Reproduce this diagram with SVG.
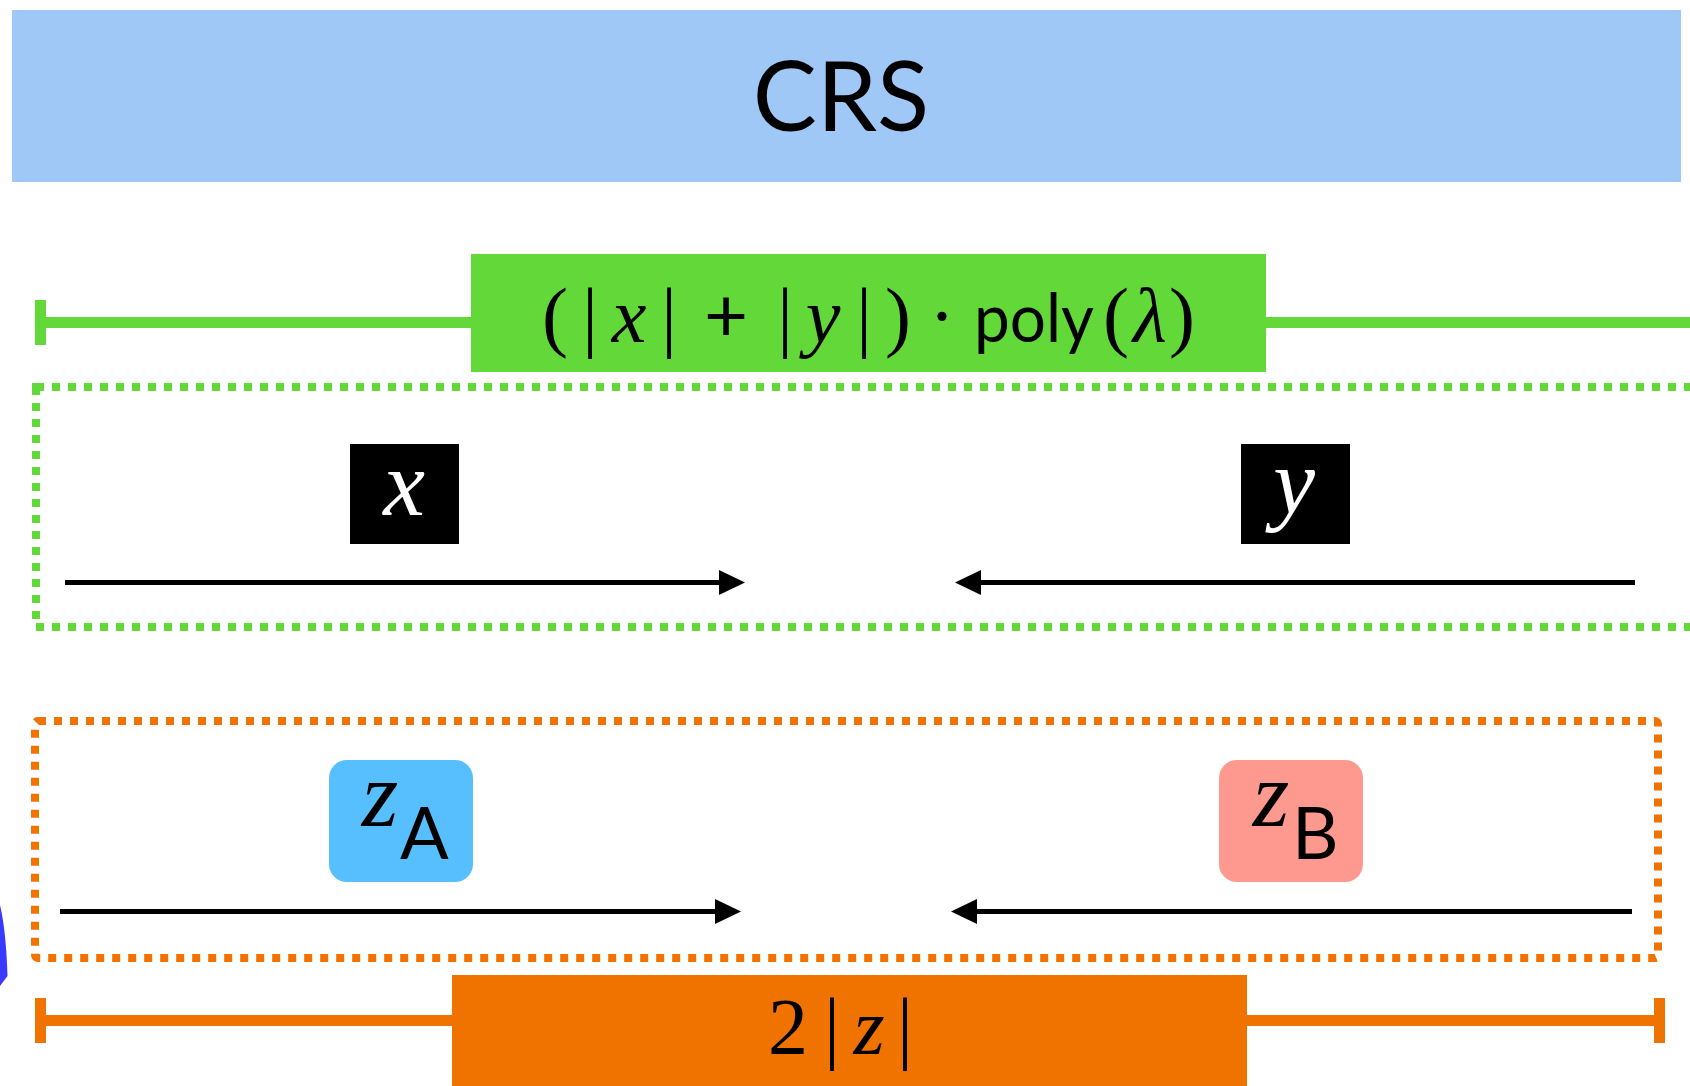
<svg xmlns="http://www.w3.org/2000/svg" width="1690" height="1086" viewBox="0 0 1690 1086">
  <style>
    .serif { font-family: "Liberation Serif", "Times New Roman", serif; }
    .sans { font-family: Lato, "Open Sans", "Liberation Sans", sans-serif; }
    .it { font-style: italic; }
    .green { fill: #62d938; }
    .orange { fill: #f07300; }
    .dotG { fill: none; stroke: #62d938; stroke-width: 8; stroke-dasharray: 8 8; }
    .dotO { fill: none; stroke: #f07300; stroke-width: 8; stroke-dasharray: 8 8; }
    .arrow { stroke: #000; stroke-width: 5; fill: none; }
  </style>
  <defs>
    <marker id="head" viewBox="0 0 26 25" refX="0" refY="12.5" markerWidth="26" markerHeight="25" markerUnits="userSpaceOnUse" orient="auto">
      <path d="M0,0 L26,12.5 L0,25 Z" fill="#000"/>
    </marker>
  </defs>

  <rect width="1690" height="1086" fill="#fff"/>

  <!-- header band -->
  <g id="crs">
    <rect x="12" y="10" width="1669" height="172" fill="#a0c8f6"/>
    <text class="sans" x="841" y="131" font-size="96" text-anchor="middle" fill="#000">CRS</text>
  </g>

  <!-- green span: (|x|+|y|)·poly(λ) -->
  <g id="green-span">
    <rect class="green" x="35" y="300" width="11" height="45"/>
    <rect class="green" x="46" y="317" width="430" height="11"/>
    <rect class="green" x="1260" y="317" width="430" height="11"/>
    <rect class="green" x="471" y="254" width="795" height="118"/>
    <text class="serif" y="342" font-size="78" fill="#000" text-anchor="middle"><tspan x="555">(</tspan><tspan x="590">|</tspan><tspan x="629" class="it">x</tspan><tspan x="669">|</tspan><tspan x="726" class="sans" font-size="76">+</tspan><tspan x="785">|</tspan><tspan x="823" class="it">y</tspan><tspan x="864">|</tspan><tspan x="898">)</tspan><tspan x="942">·</tspan><tspan x="1034" class="sans" font-size="68" textLength="120" lengthAdjust="spacingAndGlyphs">poly</tspan><tspan x="1116">(</tspan><tspan x="1150" class="it">λ</tspan><tspan x="1182">)</tspan></text>
  </g>

  <!-- green dotted frame (runs off the right edge) -->
  <g id="green-frame">
    <rect class="dotG" x="36" y="387" width="1700" height="240"/>
  </g>

  <g id="node-x">
    <rect x="350" y="444" width="109" height="100" fill="#000"/>
    <text class="serif it" x="404" y="515" font-size="94" text-anchor="middle" fill="#fff">x</text>
  </g>
  <g id="node-y">
    <rect x="1241" y="444" width="109" height="100" fill="#000"/>
    <text class="serif it" x="1294" y="513" font-size="94" text-anchor="middle" fill="#fff">y</text>
  </g>

  <!-- orange dotted frame -->
  <g id="orange-frame">
    <rect class="dotO" x="35" y="721" width="1623" height="237" rx="3"/>
  </g>

  <g id="node-zA">
    <rect x="329" y="760" width="144" height="122" rx="18" fill="#57bffd"/>
    <text class="serif it" x="380" y="826" font-size="94" text-anchor="middle" fill="#000">z</text>
    <text class="sans" x="400" y="859" font-size="72" fill="#000">A</text>
  </g>
  <g id="node-zB">
    <rect x="1219" y="760" width="144" height="122" rx="18" fill="#fd998f"/>
    <text class="serif it" x="1271" y="826" font-size="94" text-anchor="middle" fill="#000">z</text>
    <text class="sans" x="1292" y="859" font-size="72" fill="#000">B</text>
  </g>

  <!-- orange span: 2|z| -->
  <g id="orange-span">
    <rect class="orange" x="35" y="998" width="11" height="45"/>
    <rect class="orange" x="1654" y="998" width="11" height="45"/>
    <rect class="orange" x="46" y="1015" width="410" height="11"/>
    <rect class="orange" x="1240" y="1015" width="414" height="11"/>
    <rect class="orange" x="452" y="975" width="795" height="111"/>
    <text class="serif" y="1054" font-size="80" fill="#000" text-anchor="middle"><tspan x="788">2</tspan><tspan x="832">|</tspan><tspan x="869" class="it">z</tspan><tspan x="905">|</tspan></text>
  </g>

  <!-- blue edge at the left margin -->
  <g id="edge-mark">
    <path d="M0,905 Q6,930 7.5,976 L0,986 Z" fill="#3a3aff"/>
  </g>

  <!-- connectors -->
  <g id="connectors">
    <line class="arrow" x1="65" y1="582.5" x2="719" y2="582.5" marker-end="url(#head)"/>
    <line class="arrow" x1="1635" y1="582.5" x2="981" y2="582.5" marker-end="url(#head)"/>
    <line class="arrow" x1="60" y1="911.5" x2="715" y2="911.5" marker-end="url(#head)"/>
    <line class="arrow" x1="1632" y1="911.5" x2="977" y2="911.5" marker-end="url(#head)"/>
  </g>
</svg>
